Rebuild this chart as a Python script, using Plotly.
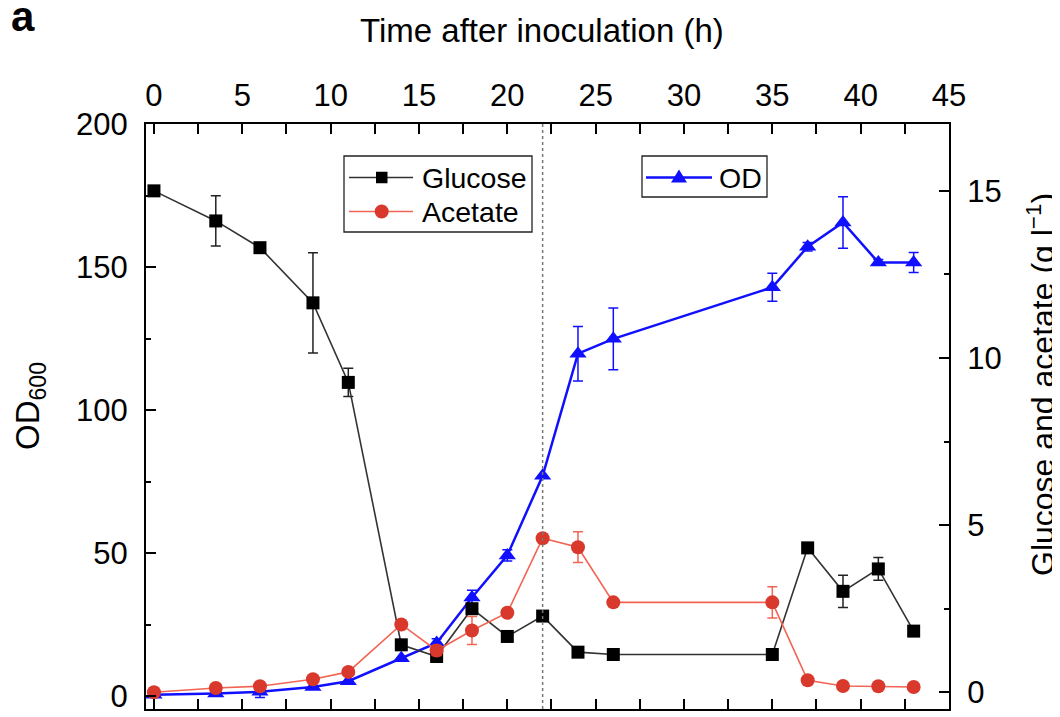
import plotly.graph_objects as go

# ---- data ----
time_h = [0, 3.5, 6, 9, 11, 14, 16, 18, 20, 22, 24, 26, 35, 37, 39, 41, 43]
glucose = [15.0, 14.1, 13.3, 11.65, 9.27, 1.42, 1.07, 2.5, 1.67, 2.28, 1.2, 1.13, 1.13, 4.32, 3.02, 3.69, 1.83]
glucose_err = [0, 0.75, 0.05, 1.5, 0.42, 0, 0, 0, 0, 0, 0, 0, 0, 0, 0.48, 0.34, 0]
acetate = [0.0, 0.13, 0.18, 0.39, 0.61, 2.03, 1.25, 1.85, 2.38, 4.61, 4.34, 2.69, 2.69, 0.36, 0.19, 0.18, 0.16]
acetate_err = [0, 0, 0, 0, 0, 0, 0.15, 0.42, 0.1, 0, 0.46, 0, 0.47, 0, 0, 0, 0]
od600 = [0.5, 0.9, 1.5, 3.2, 5.2, 13.2, 18.6, 34.5, 49.2, 77.0, 119.7, 124.9, 142.9, 157.1, 165.6, 151.6, 151.6]
od600_err = [0, 0, 2, 0, 0, 0, 1.5, 2.5, 2, 0, 9.5, 10.8, 4.9, 1.5, 9, 1, 3.5]

series_names = ["Glucose", "Acetate", "OD"]
x_ticks = [0, 5, 10, 15, 20, 25, 30, 35, 40, 45]
od_ticks = [0, 50, 100, 150, 200]
conc_ticks = [0, 5, 10, 15]
induction_time = 22

FONT = "Liberation Sans, Arial, sans-serif"
BLUE = "#1010ff"
RED_M = "#d8392c"
RED_L = "#f26454"
GLU_L = "#333333"

# page geometry (the page body adds an 8 px offset)
OFF = 8
FIG_W, FIG_H = 1060 - OFF, 717 - OFF
L, R, T, B = 146, 949, 124, 709          # plot area in page pixels
W, H = R - L, B - T


def px(xp):
    return (xp - L) / W


def py(yp):
    return (B - yp) / H


fig = go.Figure()

fig.add_trace(go.Scatter(
    x=time_h, y=od600, name=series_names[2], yaxis="y", showlegend=False,
    mode="lines+markers",
    line=dict(color=BLUE, width=2.5),
    marker=dict(symbol="triangle-up", size=15, color=BLUE),
    error_y=dict(type="data", array=od600_err, color=BLUE, thickness=1.5, width=5),
))
fig.add_trace(go.Scatter(
    x=time_h, y=glucose, name=series_names[0], yaxis="y2", showlegend=False,
    mode="lines+markers",
    line=dict(color=GLU_L, width=1.6),
    marker=dict(symbol="square", size=13, color="black"),
    error_y=dict(type="data", array=glucose_err, color="#222222", thickness=1.5, width=5),
))
fig.add_trace(go.Scatter(
    x=time_h, y=acetate, name=series_names[1], yaxis="y2", showlegend=False,
    mode="lines+markers",
    line=dict(color=RED_L, width=1.6),
    marker=dict(symbol="circle", size=14, color=RED_M),
    error_y=dict(type="data", array=acetate_err, color=RED_L, thickness=1.5, width=5),
))

fig.add_shape(type="line", x0=induction_time, x1=induction_time, xref="x",
              y0=0, y1=1, yref="paper",
              line=dict(color="#777777", width=1.5, dash="dot"))

# ---- legend boxes (drawn by hand to match the reference key layout) ----
PP = dict(xref="paper", yref="paper")
fig.add_shape(type="rect", x0=px(344), x1=px(532), y0=py(232), y1=py(156),
              line=dict(color="#222222", width=1.3), fillcolor="white", **PP)
fig.add_shape(type="rect", x0=px(642), x1=px(767), y0=py(197), y1=py(156),
              line=dict(color="#222222", width=1.3), fillcolor="white", **PP)

ROW_G, ROW_A, ROW_O = 177.5, 211.5, 177.5
# glucose key
fig.add_shape(type="line", x0=px(349), x1=px(413), y0=py(ROW_G), y1=py(ROW_G),
              line=dict(color=GLU_L, width=1.6), **PP)
fig.add_shape(type="rect", x0=px(376), x1=px(387.5), y0=py(ROW_G + 5.75), y1=py(ROW_G - 5.75),
              line=dict(width=0), fillcolor="black", **PP)
# acetate key
fig.add_shape(type="line", x0=px(349), x1=px(413), y0=py(ROW_A), y1=py(ROW_A),
              line=dict(color=RED_L, width=1.6), **PP)
fig.add_shape(type="circle", x0=px(374.7), x1=px(388.7), y0=py(ROW_A + 7), y1=py(ROW_A - 7),
              line=dict(width=0), fillcolor=RED_M, **PP)
# OD key
fig.add_shape(type="line", x0=px(646), x1=px(712), y0=py(ROW_O), y1=py(ROW_O),
              line=dict(color=BLUE, width=2.5), **PP)
tri = "M {:.5f},{:.5f} L {:.5f},{:.5f} L {:.5f},{:.5f} Z".format(
    px(671), py(ROW_O + 5), px(687), py(ROW_O + 5), px(679), py(ROW_O - 8))
fig.add_shape(type="path", path=tri, line=dict(width=0), fillcolor=BLUE, **PP)

key_font = dict(family=FONT, size=28.5, color="black")
legend_texts = [
    dict(text=series_names[0], x=px(420), y=py(ROW_G)),
    dict(text=series_names[1], x=px(420), y=py(ROW_A)),
    dict(text=series_names[2], x=px(716.5), y=py(ROW_O)),
]
legend_annots = [dict(t, xref="paper", yref="paper", xanchor="left", yanchor="middle",
                      showarrow=False, font=key_font) for t in legend_texts]

axis_common = dict(showgrid=False, zeroline=False, showline=True, linecolor="black",
                   linewidth=2, ticks="inside", ticklen=10, tickwidth=1.5, tickcolor="black",
                   automargin=False,
                   tickfont=dict(family=FONT, size=31, color="black"))

fig.update_layout(
    width=FIG_W, height=FIG_H,
    margin=dict(l=L - OFF, r=FIG_W - (R - OFF), t=T - OFF, b=FIG_H - (B - OFF), autoexpand=False),
    paper_bgcolor="white", plot_bgcolor="white",
    font=dict(family=FONT, color="black"),
    showlegend=False,
    xaxis=dict(range=[-0.45, 45.0], side="top", tickvals=x_ticks, mirror="allticks",
               minor=dict(ticks="inside", ticklen=5, dtick=2.5, tick0=0, tickcolor="black"),
               ticklabelstandoff=4, **axis_common),
    yaxis=dict(range=[-4.5, 200], tickvals=od_ticks,
               minor=dict(ticks="inside", ticklen=5, dtick=25, tick0=0, tickcolor="black"),
               ticklabelstandoff=10, **axis_common),
    yaxis2=dict(range=[-0.5, 17], tickvals=conc_ticks, overlaying="y", side="right",
                minor=dict(ticks="inside", ticklen=5, dtick=2.5, tick0=0, tickcolor="black"),
                ticklabelstandoff=10, **axis_common),
    annotations=[
        dict(text="<b>a</b>", x=px(23), y=py(16), xref="paper", yref="paper",
             xanchor="center", yanchor="middle",
             showarrow=False, font=dict(family=FONT, size=42, color="black")),
        dict(text="Time after inoculation (h)", x=px(542), y=py(30.5), xref="paper", yref="paper",
             xanchor="center", yanchor="middle",
             showarrow=False, font=dict(family=FONT, size=33, color="black")),
        dict(text="OD<sub>600</sub>", x=px(30), y=py(406), xref="paper", yref="paper",
             xanchor="center", yanchor="middle",
             textangle=-90, showarrow=False, font=dict(family=FONT, size=33, color="black")),
        dict(text="Glucose and acetate (g l<sup>−1</sup>)", x=px(1041), y=py(385),
             xref="paper", yref="paper", xanchor="center", yanchor="middle",
             textangle=-90, showarrow=False,
             font=dict(family=FONT, size=32, color="black")),
    ] + legend_annots,
)

fig.write_html("out.html")
